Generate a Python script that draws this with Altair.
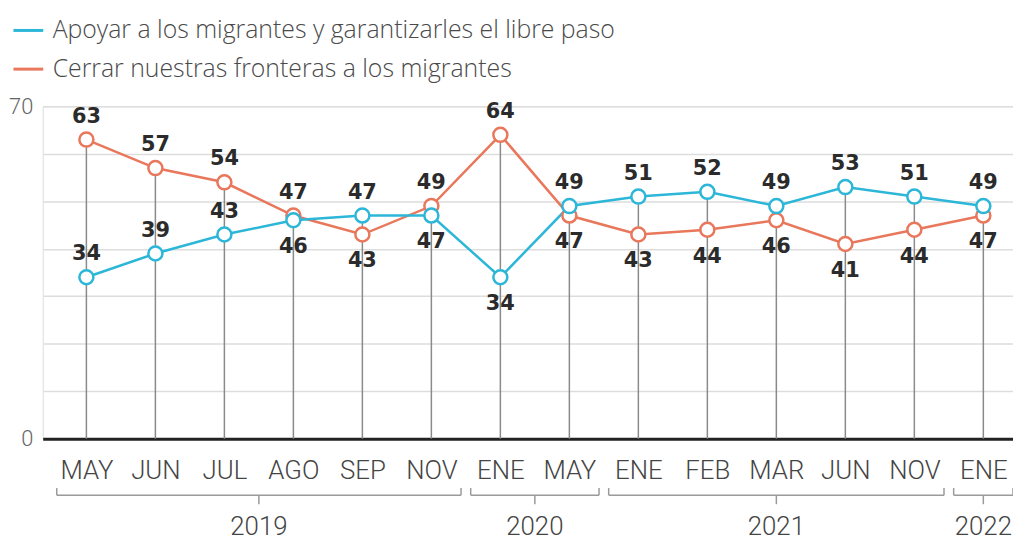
import altair as alt
import pandas as pd

months = ["MAY", "JUN", "JUL", "AGO", "SEP", "NOV", "ENE", "MAY", "ENE", "FEB", "MAR", "JUN", "NOV", "ENE"]
apoyar = [34, 39, 43, 46, 47, 47, 34, 49, 51, 52, 49, 53, 51, 49]
cerrar = [63, 57, 54, 47, 43, 49, 64, 47, 43, 44, 46, 41, 44, 47]
series_names = ["Apoyar a los migrantes y garantizarles el libre paso",
                "Cerrar nuestras fronteras a los migrantes"]
series_colors = ["#2cb6d8", "#e8775b"]
years = ["2019", "2020", "2021", "2022"]
year_start = [0, 6, 8, 13]
year_end = [5, 7, 12, 13]
lower_label_above = [0, 1, 2]

# long table (orange first so blue is drawn on top)
rows = []
for i in range(len(months)):
    hi = max(apoyar[i], cerrar[i])
    for name, vals in ((series_names[1], cerrar), (series_names[0], apoyar)):
        v = vals[i]
        pos = "above" if (v == hi or i in lower_label_above) else "below"
        rows.append({"idx": i, "serie": name, "valor": v, "pos": pos})
df = pd.DataFrame(rows)

rules_df = pd.DataFrame({"idx": list(range(len(months))),
                         "top": [max(a, c) for a, c in zip(apoyar, cerrar)],
                         "base": [0] * len(months)})

# year brackets (in data units of the scales)
H_PAD = 0.43
Y_BAR, Y_END, Y_TICK, Y_TEXT = -11.9, -10.4, -13.8, -18.6
seg = []
for y, s, e in zip(years, year_start, year_end):
    l, r, m = s - H_PAD, e + H_PAD, (s + e) / 2
    seg.append({"x": l, "x2": r, "y": Y_BAR, "y2": Y_BAR})
    seg.append({"x": l, "x2": l, "y": Y_END, "y2": Y_BAR})
    seg.append({"x": r, "x2": r, "y": Y_END, "y2": Y_BAR})
    seg.append({"x": m, "x2": m, "y": Y_BAR, "y2": Y_TICK})
seg_df = pd.DataFrame(seg)
year_df = pd.DataFrame({"year": years,
                        "xm": [(s + e) / 2 for s, e in zip(year_start, year_end)],
                        "yt": [Y_TEXT] * len(years)})

xscale = alt.Scale(domain=[-0.633, 13.43], nice=False, zero=False)
yscale = alt.Scale(domain=[0, 70], nice=False)
label_arr = "[" + ",".join("'%s'" % m for m in months) + "]"

FONT = "Roboto"
xaxis = alt.Axis(values=list(range(len(months))), labelExpr=label_arr + "[datum.value]",
                 ticks=False, tickSize=0, grid=False, title=None,
                 domainColor="#222222", domainWidth=3,
                 labelFont=FONT, labelFontWeight=300, labelFontSize=26, labelColor="#444444",
                 labelBaseline="alphabetic", labelPadding=40)
yaxis = alt.Axis(values=list(range(0, 71, 10)),
                 labelExpr="datum.value == 0 || datum.value == 70 ? datum.label : ''",
                 ticks=False, domain=False, title=None, grid=True,
                 gridColor="#dddddd", gridWidth=1.5,
                 labelFont=FONT, labelFontWeight=300, labelFontSize=22, labelColor="#666666",
                 labelPadding=10)

legend = alt.Legend(orient="none", legendX=-31, legendY=-93, title=None,
                    symbolType="stroke", symbolSize=900, symbolStrokeWidth=3,
                    labelFont="Open Sans", labelFontWeight=300, labelFontSize=25,
                    labelColor="#4a4a4a",
                    labelLimit=1000, rowPadding=9, labelOffset=8, padding=0)
color = alt.Color("serie:N", scale=alt.Scale(domain=series_names, range=series_colors),
                  legend=legend)

vrules = alt.Chart(rules_df).mark_rule(color="#8a8a8a", strokeWidth=1.5).encode(
    x=alt.X("idx:Q", scale=xscale, axis=xaxis),
    y=alt.Y("top:Q", scale=yscale, axis=yaxis),
    y2="base:Q")

lines = alt.Chart(df).mark_line(strokeWidth=2.5).encode(
    x=alt.X("idx:Q", scale=xscale), y=alt.Y("valor:Q", scale=yscale), color=color,
    detail="serie:N")

points = alt.Chart(df).mark_point(shape="circle", filled=False, fill="white", fillOpacity=1,
                                  opacity=1, size=200, strokeWidth=2.5).encode(
    x=alt.X("idx:Q", scale=xscale), y=alt.Y("valor:Q", scale=yscale), color=color)

txt_style = dict(font="DejaVu Sans", fontWeight="bold", fontSize=21, color="#2b2b2b",
                 baseline="middle", align="center")
labels_above = alt.Chart(df).transform_filter(alt.datum.pos == "above").mark_text(
    dy=-23, **txt_style).encode(x=alt.X("idx:Q", scale=xscale), y=alt.Y("valor:Q", scale=yscale),
                                text="valor:Q")
labels_below = alt.Chart(df).transform_filter(alt.datum.pos == "below").mark_text(
    dy=27, **txt_style).encode(x=alt.X("idx:Q", scale=xscale), y=alt.Y("valor:Q", scale=yscale),
                               text="valor:Q")

brackets = alt.Chart(seg_df).mark_rule(color="#9a9a9a", strokeWidth=1.5).encode(
    x=alt.X("x:Q", scale=xscale), x2="x2:Q", y=alt.Y("y:Q", scale=yscale), y2="y2:Q")

year_text = alt.Chart(year_df).mark_text(font=FONT, fontWeight=300, fontSize=26,
                                         color="#444444", baseline="middle").encode(
    x=alt.X("xm:Q", scale=xscale), y=alt.Y("yt:Q", scale=yscale), text="year:N")

chart = alt.layer(vrules, lines, points, labels_above, labels_below, brackets, year_text).properties(
    width=978, height=335,
    padding={"left": 35, "top": 97, "right": 0, "bottom": 100},
    autosize=alt.AutoSizeParams(type="none"),
).configure_view(stroke=None).configure(background="white")

chart.save("out.html", embed_options={"renderer": "svg", "actions": False})
